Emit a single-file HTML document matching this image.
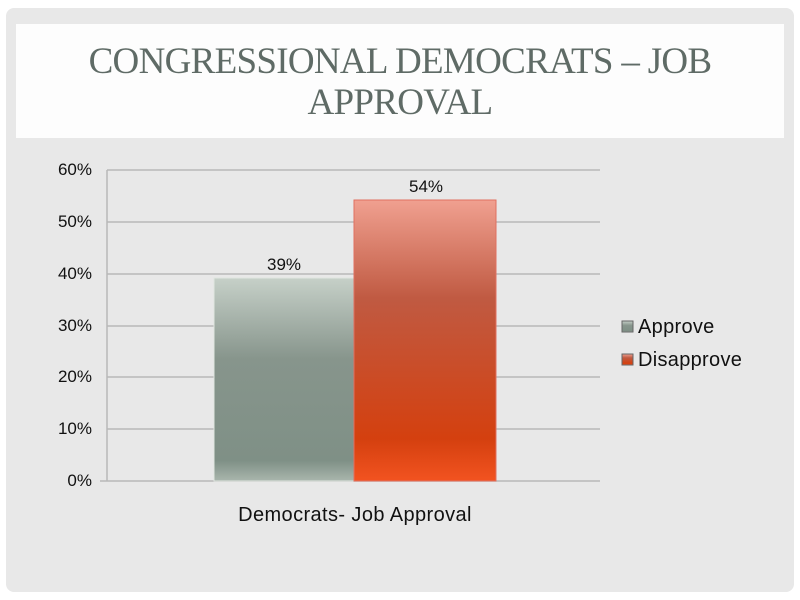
<!DOCTYPE html>
<html><head><style>
body{margin:0;width:800px;height:600px;background:#fff;overflow:hidden;font-family:"Liberation Sans",sans-serif}
.panel{position:absolute;left:6px;top:8px;width:788px;height:584px;background:#e8e8e8;border-radius:8px}
.tbox{position:absolute;left:16px;top:24px;width:768px;height:114px;background:#fdfdfd}
.title{position:absolute;left:16px;top:41px;width:768px;text-align:center;font-family:"Liberation Serif",serif;font-size:37px;line-height:41px;color:#5f6b66;letter-spacing:-0.7px}
.t{position:absolute;font-size:17px;color:#111}
</style></head><body>
<div class="panel"></div>
<div class="tbox"></div>
<div class="title">CONGRESSIONAL DEMOCRATS – JOB<br>APPROVAL</div>
<svg style="position:absolute;left:0;top:0" width="800" height="600">
<defs>
<linearGradient id="g" x1="0" y1="0" x2="0" y2="1"><stop offset="0" stop-color="#c6d0c8"/><stop offset="0.4" stop-color="#87958c"/><stop offset="0.9" stop-color="#7f9086"/><stop offset="1" stop-color="#a9b6ad"/></linearGradient>
<linearGradient id="r" x1="0" y1="0" x2="0" y2="1"><stop offset="0" stop-color="#f0a090"/><stop offset="0.35" stop-color="#c05a42"/><stop offset="0.85" stop-color="#d4400f"/><stop offset="1" stop-color="#f25320"/></linearGradient>
</defs>
<g stroke="#b8b8b8" stroke-width="1.5">
<line x1="107" y1="170" x2="600" y2="170"/><line x1="107" y1="222" x2="600" y2="222"/>
<line x1="107" y1="274" x2="600" y2="274"/><line x1="107" y1="326" x2="600" y2="326"/>
<line x1="107" y1="377" x2="600" y2="377"/><line x1="107" y1="429" x2="600" y2="429"/>
<line x1="100" y1="481" x2="600" y2="481"/><line x1="107" y1="170" x2="107" y2="481"/>
</g>
<rect x="214" y="278" width="140" height="203" fill="url(#g)" stroke="#e0e6e0"/>
<rect x="354" y="200" width="142" height="281" fill="url(#r)" stroke="#e07060"/>
<rect x="622" y="321" width="11" height="11" fill="url(#g)" stroke="#666"/>
<rect x="622" y="354" width="11" height="11" fill="url(#r)" stroke="#666"/>
</svg>
<div class="t" style="left:36px;top:160px;width:56px;text-align:right">60%</div>
<div class="t" style="left:36px;top:212px;width:56px;text-align:right">50%</div>
<div class="t" style="left:36px;top:264px;width:56px;text-align:right">40%</div>
<div class="t" style="left:36px;top:316px;width:56px;text-align:right">30%</div>
<div class="t" style="left:36px;top:367px;width:56px;text-align:right">20%</div>
<div class="t" style="left:36px;top:419px;width:56px;text-align:right">10%</div>
<div class="t" style="left:36px;top:471px;width:56px;text-align:right">0%</div>
<div class="t" style="left:254px;top:255px;width:60px;text-align:center">39%</div>
<div class="t" style="left:396px;top:177px;width:60px;text-align:center">54%</div>
<div class="t" style="left:205px;top:504px;width:300px;text-align:center;font-size:20px;letter-spacing:0.4px">Democrats- Job Approval</div>
<div class="t" style="left:638px;top:316px;font-size:20px;letter-spacing:0.3px">Approve</div>
<div class="t" style="left:638px;top:349px;font-size:20px;letter-spacing:0.3px">Disapprove</div>
</body></html>
